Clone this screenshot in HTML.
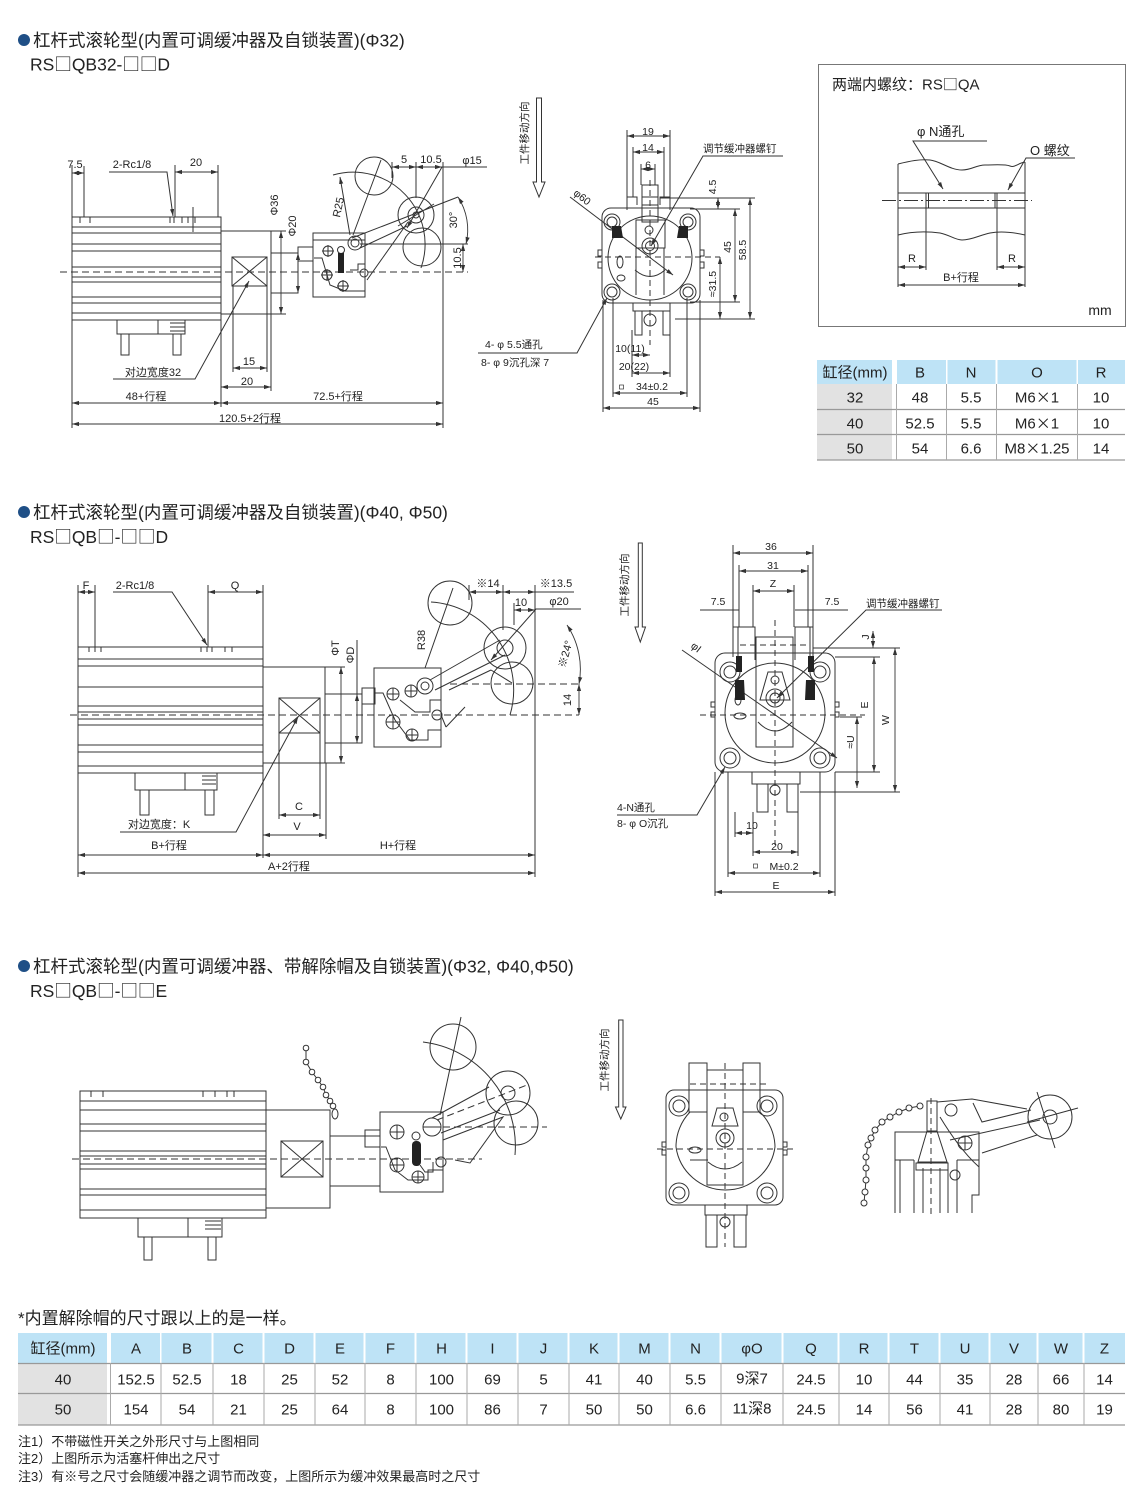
<!DOCTYPE html>
<html><head><meta charset="utf-8">
<style>
html,body{margin:0;padding:0;background:#fff;width:1140px;height:1504px;overflow:hidden}
svg{display:block}
text{font-family:"Liberation Sans","Noto Sans CJK SC",sans-serif;fill:#222}
.cj{font-family:"Noto Sans CJK SC","WenQuanYi Zen Hei",sans-serif}
.s{font-size:10.5px}
.m{font-size:11px}
.tb{font-size:15px}
</style></head><body>
<svg xmlns="http://www.w3.org/2000/svg" width="1140" height="1504" viewBox="0 0 1140 1504">
<defs>
<marker id="a" markerWidth="7" markerHeight="6" refX="7" refY="3" orient="auto-start-reverse" markerUnits="userSpaceOnUse"><path d="M0,0.9 L7,3 L0,5.1z" fill="#333"/></marker>
</defs>

<!-- ===== Headings ===== -->
<circle cx="24" cy="40" r="6" fill="#1f4f86"/>
<text x="33" y="46.5" font-size="17.5">杠杆式滚轮型(内置可调缓冲器及自锁装置)(Φ32)</text>
<text x="30" y="70.5" font-size="17.5">RS<tspan class="cj">□</tspan>QB32-<tspan class="cj">□□</tspan>D</text>
<circle cx="24" cy="512" r="6" fill="#1f4f86"/>
<text x="33" y="518.5" font-size="17.5">杠杆式滚轮型(内置可调缓冲器及自锁装置)(Φ40, Φ50)</text>
<text x="30" y="543" font-size="17.5">RS<tspan class="cj">□</tspan>QB<tspan class="cj">□</tspan>-<tspan class="cj">□□</tspan>D</text>
<circle cx="24" cy="966" r="6" fill="#1f4f86"/>
<text x="33" y="972.5" font-size="17.5">杠杆式滚轮型(内置可调缓冲器、带解除帽及自锁装置)(Φ32, Φ40,Φ50)</text>
<text x="30" y="997" font-size="17.5">RS<tspan class="cj">□</tspan>QB<tspan class="cj">□</tspan>-<tspan class="cj">□□</tspan>E</text>

<!-- ===== Drawing 1 (top-left) ===== -->
<g fill="none" stroke="#333" stroke-width="1">
<rect x="72" y="217" width="149" height="103"/>
<path d="M72 227H221M72 233H221M72 244H221M72 251H221M72 267H221M72 277H221M72 282H221M72 297H221M72 303H221M72 313H221"/>
<path d="M80 217v6M90 217v6M170 217v6M174 217v6M182 217v6M188 217v6M195 217v6M193 207V232"/>
<rect x="221" y="231" width="50" height="83"/>
<rect x="232" y="257" width="35" height="29"/>
<path d="M232 257L267 286M267 257L232 286"/>
<path d="M271 253H298V293H271"/>
<rect x="298" y="247" width="15" height="14"/>
<rect x="313" y="233" width="52" height="64"/>
<path d="M313 240H365M314 258H322L330 285L345 291H365M350 270H358V264H365"/>
<circle cx="328" cy="251" r="5"/><path d="M322 251h12M328 245v12"/>
<circle cx="341" cy="250" r="3.5"/>
<circle cx="327" cy="275" r="5"/><path d="M321 275h12M327 269v12"/>
<circle cx="343" cy="286" r="5"/><path d="M337 286h12M343 280v12"/>
<circle cx="364" cy="273" r="4"/>
<circle cx="355" cy="243" r="7"/><circle cx="355" cy="243" r="4"/>
<circle cx="374" cy="176" r="19"/>
<circle cx="416" cy="215" r="18"/><circle cx="416" cy="215" r="8"/><circle cx="416" cy="215" r="3"/>
<circle cx="422" cy="247" r="19"/>
<path d="M333 175A72 72 0 0 1 421 268"/>
<path d="M353 235L381 160M352 238L458 197M360 248L407 226M367 280L408 222M360 244H468M398 226L434 204"/>
<path d="M60 272H468" stroke-dasharray="7 4"/>
<rect x="117" y="320" width="68" height="14"/>
<path d="M158 320V334M170 323h15M170 327h15M170 331h15"/>
<rect x="121" y="334" width="8" height="21"/>
<rect x="173" y="334" width="8" height="21"/>
<path d="M72 165V217M84 166V217M175 165V217M218 165V217M72 320V428M221 320V407M443 162V428M233 286V372M267 286V372M271 314V391M271 231H286M271 314H286M392 162V178M416 162V198"/>
<path d="M109 172H167L173 216" marker-end="url(#a)"/>
<path d="M487 167H442L407 228" marker-end="url(#a)"/>
<path d="M113 379H195L249 281" marker-end="url(#a)"/>
<path d="M350 235L340 177" marker-end="url(#a)"/>
</g>
<g fill="none" stroke="#333" stroke-width="0.9" marker-start="url(#a)" marker-end="url(#a)">
<line x1="72" y1="403" x2="221" y2="403"/>
<line x1="221" y1="403" x2="443" y2="403"/>
<line x1="72" y1="424" x2="443" y2="424"/>
<line x1="233" y1="368" x2="267" y2="368"/>
<line x1="221" y1="387" x2="271" y2="387"/>
<line x1="281" y1="231" x2="281" y2="314"/>
<line x1="298" y1="253" x2="298" y2="293"/>
<line x1="72" y1="173" x2="84" y2="173"/>
<line x1="175" y1="172" x2="218" y2="172"/>
<line x1="392" y1="167" x2="416" y2="167"/>
<line x1="416" y1="167" x2="442" y2="167"/>
<line x1="463" y1="244" x2="463" y2="272"/>
<path d="M458 197A60 60 0 0 1 466 244"/>
</g>
<g class="m" text-anchor="middle">
<text x="75" y="168">7.5</text>
<text x="132" y="168">2-Rc1/8</text>
<text x="196" y="166">20</text>
<text x="404" y="163">5</text>
<text x="431" y="163">10.5</text>
<text x="472" y="164">φ15</text>
<text transform="translate(278,205) rotate(-90)">Φ36</text>
<text transform="translate(296,226) rotate(-90)">Φ20</text>
<text transform="translate(342,208) rotate(-78)">R25</text>
<text transform="translate(457,220) rotate(-90)">30°</text>
<text transform="translate(461,258) rotate(-90)">10.5</text>
<text x="249" y="365">15</text>
<text x="247" y="385">20</text>
<text x="153" y="376">对边宽度32</text>
<text x="146" y="400">48+行程</text>
<text x="338" y="400">72.5+行程</text>
<text x="250" y="422">120.5+2行程</text>
</g>
<rect x="338" y="253" width="6" height="20" fill="#222"/>

<!-- ===== Drawing 2 (top middle) ===== -->
<g fill="none" stroke="#333" stroke-width="1">
<path d="M536.5 98V182H533L539 197L545 182H541.5V98Z"/>
<rect x="602" y="208" width="98" height="95" rx="9"/>
<path d="M602 250h-4v6h4M602 262h-4v6h4M700 250h4v6h-4M700 262h4v6h-4"/>
<circle cx="650" cy="258" r="42"/>
<circle cx="612" cy="222" r="8"/><circle cx="612" cy="222" r="5"/>
<circle cx="688" cy="222" r="8"/><circle cx="688" cy="222" r="5"/>
<circle cx="612" cy="292" r="8"/><circle cx="612" cy="292" r="5"/>
<circle cx="688" cy="292" r="8"/><circle cx="688" cy="292" r="5"/>
<path d="M627 210V197H637V205M670 210V197H660V205"/>
<rect x="642" y="185" width="16" height="37"/>
<path d="M642 197H658M642 205H658"/>
<rect x="636" y="220" width="29" height="28"/>
<circle cx="649" cy="230" r="4"/>
<circle cx="650" cy="246" r="8"/><circle cx="650" cy="246" r="4.5"/>
<path d="M635 270Q650 283 665 270M636 248V295M664 248V295"/>
<ellipse cx="620" cy="262" rx="3" ry="6"/><ellipse cx="621" cy="278" rx="4" ry="3"/>
<rect x="633" y="303" width="37" height="8"/>
<rect x="635" y="311" width="7" height="24"/><rect x="663" y="311" width="7" height="24"/>
<circle cx="650" cy="320" r="6"/>
<path d="M595 257H720M650 180V345" stroke-dasharray="6 4"/>
<path d="M627 130V197M670 130V197M633 147V197M664 147V197M641 164V185M655 164V185M660 198H755M690 209H740M690 302H740M675 319H755M603 300V412M700 300V412M613 298V397M687 298V397M632 330V377M670 330V377"/>
<path d="M478 353H577L607 298" marker-end="url(#a)"/>
<path d="M783 156H703L651 246" marker-end="url(#a)"/>
<path d="M570 197L673 275" marker-end="url(#a)"/>
</g>
<g fill="none" stroke="#333" stroke-width="0.9" marker-start="url(#a)" marker-end="url(#a)">
<line x1="627" y1="136" x2="670" y2="136"/>
<line x1="633" y1="152" x2="664" y2="152"/>
<line x1="641" y1="169" x2="655" y2="169"/>
<line x1="718" y1="198" x2="718" y2="209"/>
<line x1="735" y1="209" x2="735" y2="302"/>
<line x1="750" y1="198" x2="750" y2="319"/>
<line x1="720" y1="257" x2="720" y2="319"/>
<line x1="632" y1="355" x2="650" y2="355"/>
<line x1="632" y1="373" x2="670" y2="373"/>
<line x1="613" y1="393" x2="687" y2="393"/>
<line x1="603" y1="408" x2="700" y2="408"/>
</g>
<text class="s" transform="translate(528,133) rotate(-90)" text-anchor="middle">工件移动方向</text>
<g class="s" text-anchor="middle">
<text x="648" y="135">19</text>
<text x="648" y="151">14</text>
<text x="648" y="168.5">6</text>
<text transform="translate(716,187) rotate(-90)">4.5</text>
<text transform="translate(731,247) rotate(-90)">45</text>
<text transform="translate(746,250) rotate(-90)">58.5</text>
<text transform="translate(716,284) rotate(-90)">≈31.5</text>
<text x="630" y="352">10(11)</text>
<text x="634" y="370">20(22)</text>
<text x="652" y="390">34±0.2</text>
<text x="653" y="405">45</text>
<text transform="translate(580,200) rotate(38)">φ60</text>
</g>
<rect x="619.5" y="385" width="4" height="4" fill="none" stroke="#333" stroke-width="0.7"/>
<g class="s">
<text x="485" y="348">4- φ 5.5通孔</text>
<text x="481" y="366">8- φ 9沉孔深 7</text>
<text x="703" y="152">调节缓冲器螺钉</text>
</g>
<path d="M612 226h9l2 12h-11z M688 226h-9l-2 12h11z" fill="#222"/>

<!-- ===== Drawing 3 (box) ===== -->
<rect x="818.5" y="64.5" width="307" height="262" fill="none" stroke="#777" stroke-width="1"/>
<text x="832" y="89.5" font-size="15">两端内螺纹：RS<tspan class="cj">□</tspan>QA</text>
<g fill="none" stroke="#333" stroke-width="1">
<path d="M898 164C910 161 920 159 930 160C940 161 950 170 962 170C972 170 976 165 985 165C995 165 1005 164 1010 166C1015 168 1018 163 1025 162"/>
<path d="M898 235C910 232 925 231 940 233C950 235 955 240 962 240C972 240 980 235 990 233C1000 231 1012 232 1025 235"/>
<path d="M898 164V287M1025 162V287"/>
<rect x="898" y="193" width="127" height="15"/>
<path d="M926 193V270M928.5 193V208M995 193V208M997 193V270"/>
<path d="M882 200.5H1032" stroke-dasharray="14 3 2 3"/>
<path d="M987 141H913L943 189" marker-end="url(#a)"/>
<path d="M1075 158H1026L1008 190" marker-end="url(#a)"/>
</g>
<g fill="none" stroke="#333" stroke-width="0.9" marker-start="url(#a)" marker-end="url(#a)">
<line x1="898" y1="267" x2="926" y2="267"/>
<line x1="997" y1="267" x2="1025" y2="267"/>
<line x1="898" y1="285" x2="1025" y2="285"/>
</g>
<text x="917" y="136" font-size="13">φ N通孔</text>
<text x="1030" y="155" font-size="13">O 螺纹</text>
<g class="m" text-anchor="middle">
<text x="912" y="262">R</text>
<text x="1012" y="262">R</text>
<text x="961" y="281">B+行程</text>
</g>
<text x="1100" y="315" font-size="14" text-anchor="middle">mm</text>

<!-- ===== Top-right table ===== -->
<g>
<rect x="817" y="360" width="75" height="24" fill="#bee3f6"/>
<rect x="897" y="360" width="49" height="24" fill="#bee3f6"/>
<rect x="947.5" y="360" width="48" height="24" fill="#bee3f6"/>
<rect x="997.5" y="360" width="79" height="24" fill="#bee3f6"/>
<rect x="1078" y="360" width="47" height="24" fill="#bee3f6"/>
<rect x="817" y="384" width="75" height="76" fill="#e2e2e2"/>
<path d="M817 409.5H1125M817 434.5H1125M817 460H1125" stroke="#999" stroke-width="1.2"/>
<path d="M896.5 384V460M946.5 384V460M996.5 384V460M1077.5 384V460" stroke="#aaa" stroke-width="1"/>
</g>
<g class="tb" text-anchor="middle">
<text x="855" y="377.5">缸径(mm)</text>
<text x="920" y="377.5">B</text><text x="971" y="377.5">N</text><text x="1037" y="377.5">O</text><text x="1101" y="377.5">R</text>
<text x="855" y="402.5">32</text><text x="920" y="402.5">48</text><text x="971" y="402.5">5.5</text><text x="1037" y="402.5">M6<tspan class="cj">×</tspan>1</text><text x="1101" y="402.5">10</text>
<text x="855" y="428.5">40</text><text x="920" y="428.5">52.5</text><text x="971" y="428.5">5.5</text><text x="1037" y="428.5">M6<tspan class="cj">×</tspan>1</text><text x="1101" y="428.5">10</text>
<text x="855" y="453.5">50</text><text x="920" y="453.5">54</text><text x="971" y="453.5">6.6</text><text x="1037" y="453.5">M8<tspan class="cj">×</tspan>1.25</text><text x="1101" y="453.5">14</text>
</g>

<!-- ===== Drawing 4 (row 2 left) ===== -->
<g fill="none" stroke="#333" stroke-width="1">
<rect x="78" y="647" width="185" height="126"/>
<path d="M78 659H263M78 666H263M78 687H263M78 706H263M78 712H263M78 719H263M78 725H263M78 745H263M78 752H263M78 766H263"/>
<path d="M89 647v5M95 647v5M101 647v5M201 647v5M207 647v5M212 647v5M225 647v5M232 647v5"/>
<rect x="263" y="667" width="62" height="96"/>
<rect x="279" y="698" width="41" height="35"/>
<path d="M279 698L320 733M320 698L279 733"/>
<path d="M325 694H362V743H325"/>
<rect x="362" y="688" width="13" height="16"/>
<rect x="374" y="668" width="67" height="79"/>
<path d="M375 693H383L395 720L410 740H428V730H441M400 700L415 712H430V700H441"/>
<circle cx="393" cy="694" r="6"/><path d="M387 694h12M393 688v12"/>
<circle cx="411" cy="691" r="6"/><path d="M405 691h12M411 685v12"/>
<circle cx="425" cy="686" r="8"/><circle cx="425" cy="686" r="4"/>
<circle cx="393" cy="722" r="7"/><path d="M386 722h14M393 715v14"/>
<circle cx="412" cy="735" r="6"/><path d="M406 735h12M412 729v12"/>
<circle cx="437" cy="715" r="5"/>
<path d="M430 680L500 640M435 690L505 655M449 690L491 670M491 670L512 683M446 727L465 707M446 727L441 715M425 668L453 588"/>
<circle cx="450" cy="603" r="22"/>
<circle cx="505" cy="648" r="21"/><circle cx="505" cy="648" r="8"/>
<circle cx="512" cy="683" r="21"/>
<path d="M431 602A88 88 0 0 1 510 715"/>
<path d="M70 715H579M450 684H582" stroke-dasharray="7 4"/>
<rect x="135" y="773" width="82" height="17"/>
<path d="M185 773V790M202 776h14M202 780h14M202 784h14"/>
<rect x="140" y="790" width="9" height="25"/><rect x="205" y="790" width="9" height="25"/>
<path d="M78 585V647M95 585V647M208 585V647M263 585V647M325 667H345M325 763H345M357 640V694M469 585V600M503 585V630M535 585V877M514 603V625M78 773V877M263 773V858M279 733V819M320 733V819M326 763V839"/>
<path d="M113 592H172L207 645" marker-end="url(#a)"/>
<path d="M581 609H536L491 660" marker-end="url(#a)"/>
<path d="M120 832H236L298 717" marker-end="url(#a)"/>
<path d="M535 592H574"/>
</g>
<g fill="none" stroke="#333" stroke-width="0.9" marker-start="url(#a)" marker-end="url(#a)">
<line x1="78" y1="592" x2="95" y2="592"/>
<line x1="208" y1="592" x2="263" y2="592"/>
<line x1="341" y1="667" x2="341" y2="763"/>
<line x1="357" y1="694" x2="357" y2="743"/>
<line x1="469" y1="592" x2="503" y2="592"/>
<line x1="503" y1="592" x2="535" y2="592"/>
<line x1="514" y1="610" x2="535" y2="610"/>
<line x1="579" y1="684" x2="579" y2="715"/>
<path d="M567 625A80 80 0 0 1 579 684"/>
<line x1="279" y1="815" x2="320" y2="815"/>
<line x1="263" y1="835" x2="326" y2="835"/>
<line x1="78" y1="855" x2="263" y2="855"/>
<line x1="263" y1="855" x2="535" y2="855"/>
<line x1="78" y1="873" x2="535" y2="873"/>
</g>
<g class="m" text-anchor="middle">
<text x="86" y="589">F</text>
<text x="135" y="589">2-Rc1/8</text>
<text x="235" y="589">Q</text>
<text x="488" y="587">※14</text>
<text x="556" y="587">※13.5</text>
<text x="521" y="606">10</text>
<text x="559" y="605">φ20</text>
<text transform="translate(339,648) rotate(-90)">ΦT</text>
<text transform="translate(354,655) rotate(-90)">ΦD</text>
<text transform="translate(425,640) rotate(-90)">R38</text>
<text transform="translate(569,655) rotate(-75)">※24°</text>
<text transform="translate(571,700) rotate(-90)">14</text>
<text x="299" y="810">C</text>
<text x="297" y="830">V</text>
<text x="159" y="828">对边宽度：K</text>
<text x="169" y="849">B+行程</text>
<text x="398" y="849">H+行程</text>
<text x="289" y="870">A+2行程</text>
</g>

<!-- ===== Drawing 5 (row 2 right) ===== -->
<g fill="none" stroke="#333" stroke-width="1">
<path d="M638.3 543V627H635L640.3 642L645.5 627H642.3V543Z"/>
<rect x="715" y="653" width="120" height="119" rx="10"/>
<path d="M715 702h-4v5h4M715 712h-4v5h4M835 702h4v5h-4M835 712h4v5h-4"/>
<circle cx="775" cy="713" r="50"/>
<circle cx="730" cy="672" r="10"/><circle cx="730" cy="672" r="6"/>
<circle cx="820" cy="672" r="10"/><circle cx="820" cy="672" r="6"/>
<circle cx="730" cy="758" r="10"/><circle cx="730" cy="758" r="6"/>
<circle cx="820" cy="758" r="10"/><circle cx="820" cy="758" r="6"/>
<path d="M733 657V627H755V660M813 657V627H795V660M738 627V660M810 627V660"/>
<rect x="756" y="637" width="37" height="110"/>
<path d="M760 700L768 672H782L790 700ZM758 722Q775 740 792 722"/>
<circle cx="775" cy="680" r="4"/>
<circle cx="775" cy="698" r="9"/><circle cx="775" cy="698" r="5"/>
<ellipse cx="740" cy="716" rx="6" ry="3"/><ellipse cx="738" cy="700" rx="3" ry="5"/>
<rect x="752" y="772" width="48" height="12"/>
<rect x="757" y="784" width="11" height="28"/><rect x="787" y="784" width="11" height="28"/>
<circle cx="775" cy="790" r="5"/>
<path d="M700 715H865M775 620V845M740 645H810" stroke-dasharray="6 4"/>
<path d="M733 545V627M813 545V627M739 565V627M808 565V627M753 585V627M794 585V627M700 610H739M848 610H795M813 648H900M835 657H880M835 772H880M800 792H900M840 717H862M715 772V896M835 772V896M728 772V877M820 772V877M753 812V856M798 812V856M735 812V837"/>
<path d="M942 610H866L777 698" marker-end="url(#a)"/>
<path d="M682 650L837 758" marker-end="url(#a)"/>
<path d="M617 815H697L725 767" marker-end="url(#a)"/>
</g>
<g fill="none" stroke="#333" stroke-width="0.9" marker-start="url(#a)" marker-end="url(#a)">
<line x1="733" y1="553" x2="813" y2="553"/>
<line x1="739" y1="571" x2="808" y2="571"/>
<line x1="753" y1="591" x2="794" y2="591"/>
<line x1="873" y1="631" x2="873" y2="648"/>
<line x1="874" y1="657" x2="874" y2="772"/>
<line x1="895" y1="648" x2="895" y2="792"/>
<line x1="857" y1="717" x2="857" y2="788"/>
<line x1="735" y1="833" x2="753" y2="833"/>
<line x1="753" y1="852" x2="798" y2="852"/>
<line x1="728" y1="873" x2="820" y2="873"/>
<line x1="715" y1="892" x2="835" y2="892"/>
</g>
<path d="M736 656h6v16h-6z M808 656h6v16h-6z M735 680h9l1 20h-10z M806 680h9v20h-10z" fill="#222"/>
<text class="s" transform="translate(628,585) rotate(-90)" text-anchor="middle">工件移动方向</text>
<g class="s" text-anchor="middle">
<text x="771" y="550">36</text>
<text x="773" y="569">31</text>
<text x="773" y="587">Z</text>
<text x="718" y="605">7.5</text>
<text x="832" y="605">7.5</text>
<text transform="translate(869,637) rotate(-90)">J</text>
<text transform="translate(868,705) rotate(-90)">E</text>
<text transform="translate(889,720) rotate(-90)">W</text>
<text transform="translate(854,742) rotate(-90)">≈U</text>
<text transform="translate(694,650) rotate(38)">φI</text>
<text x="752" y="829">10</text>
<text x="777" y="850">20</text>
<text x="784" y="870">M±0.2</text>
<text x="776" y="889">E</text>
</g>
<rect x="753.5" y="864" width="4" height="4" fill="none" stroke="#333" stroke-width="0.7"/>
<g class="s">
<text x="866" y="607">调节缓冲器螺钉</text>
<text x="617" y="811">4-N通孔</text>
<text x="617" y="827">8- φ O沉孔</text>
</g>

<!-- ===== Drawing 6 (row 3 left) ===== -->
<g fill="none" stroke="#333" stroke-width="1">
<rect x="80" y="1091" width="186" height="127"/>
<path d="M80 1101H266M80 1110H266M80 1124H266M80 1131H266M80 1151H266M80 1156H266M80 1164H266M80 1169H266M80 1189H266M80 1195H266M80 1210H266"/>
<path d="M91 1091v6M103 1091v6M203 1091v6M215 1091v6M227 1091v6M234 1091v6"/>
<rect x="266" y="1110" width="64" height="98"/>
<rect x="281" y="1141" width="42" height="36"/>
<path d="M281 1141L323 1177M323 1141L281 1177"/>
<path d="M330 1136H380M330 1186H380"/>
<rect x="365" y="1130" width="15" height="17"/>
<rect x="380" y="1112" width="63" height="80"/>
<path d="M381 1147H386L395 1170L408 1180H428V1170H443M420 1165L425 1172H433V1162"/>
<circle cx="397" cy="1132" r="7"/><path d="M390 1132h14M397 1125v14"/>
<circle cx="397" cy="1165" r="7"/><path d="M390 1165h14M397 1158v14"/>
<circle cx="418" cy="1177" r="6"/><path d="M412 1177h12M418 1171v12"/>
<circle cx="432" cy="1127" r="9"/><path d="M423 1127h18"/>
<circle cx="441" cy="1162" r="5"/>
<circle cx="416" cy="1136" r="4"/>
<path d="M432 1118L489 1087M441 1133L500 1110M443 1140L503 1117L470 1163L455 1160M440 1115L461 1017"/>
<circle cx="453" cy="1047" r="23"/>
<circle cx="508" cy="1093" r="22"/><circle cx="508" cy="1093" r="7"/>
<circle cx="516" cy="1123" r="22"/>
<path d="M423 1042A105 105 0 0 1 515 1155"/>
<path d="M72 1159H482M443 1127H547M437 1120L527 1085" stroke-dasharray="7 4"/>
<path d="M306 1048L306 1062L312 1072L318 1080L323 1087L326 1095L330 1100L333 1105L335 1110"/>
<rect x="138" y="1218" width="84" height="19"/>
<path d="M188 1218V1237M205 1221h16M205 1225h16M205 1229h16"/>
<rect x="144" y="1237" width="8" height="23"/><rect x="208" y="1237" width="8" height="23"/>
</g>
<g fill="#fff" stroke="#333" stroke-width="1">
<circle cx="306" cy="1048" r="2.8"/><circle cx="306" cy="1062" r="2.8"/><circle cx="312" cy="1072" r="2.8"/><circle cx="318" cy="1080" r="2.8"/><circle cx="323" cy="1087" r="2.8"/><circle cx="326" cy="1095" r="2.8"/><circle cx="330" cy="1101" r="2.8"/><circle cx="333" cy="1106" r="2.8"/>
<ellipse cx="335" cy="1114" rx="3" ry="5"/>
</g>
<rect x="412" y="1141" width="9" height="25" rx="4" fill="#222"/>

<!-- ===== Drawing 7 (row 3 middle) ===== -->
<g fill="none" stroke="#333" stroke-width="1">
<path d="M618.7 1020V1107H615.5L620.8 1119L626 1107H623V1020Z"/>
<rect x="666" y="1090" width="117" height="115" rx="8"/>
<path d="M666 1142h-4v5h4M666 1150h-4v5h4M783 1142h4v5h-4M783 1150h4v5h-4"/>
<path d="M676 1147A50 50 0 0 0 775 1147M676 1147A50 50 0 0 1 690 1112M775 1147A50 50 0 0 0 760 1112"/>
<circle cx="679" cy="1106" r="10"/><circle cx="679" cy="1106" r="6"/>
<circle cx="767" cy="1106" r="10"/><circle cx="767" cy="1106" r="6"/>
<circle cx="679" cy="1193" r="10"/><circle cx="679" cy="1193" r="6"/>
<circle cx="767" cy="1193" r="10"/><circle cx="767" cy="1193" r="6"/>
<rect x="689" y="1063" width="18" height="49"/>
<rect x="743" y="1063" width="17" height="49"/>
<rect x="707" y="1070" width="36" height="115"/>
<path d="M712 1126L717 1108H733L738 1126ZM708 1162Q725 1176 742 1162M690 1160H708"/>
<circle cx="724" cy="1117" r="4"/>
<circle cx="725" cy="1138" r="9"/><circle cx="725" cy="1138" r="5"/>
<ellipse cx="695" cy="1150" rx="6" ry="3"/>
<rect x="705" y="1205" width="42" height="10"/>
<rect x="706" y="1215" width="11" height="32"/><rect x="734" y="1215" width="12" height="32"/>
<circle cx="725" cy="1222" r="5"/>
<path d="M657 1149H795M690 1084H768M725 1063V1247" stroke-dasharray="6 4"/>
</g>
<text class="s" transform="translate(608,1060) rotate(-90)" text-anchor="middle">工件移动方向</text>

<!-- ===== Drawing 8 (row 3 right) ===== -->
<g fill="none" stroke="#333" stroke-width="1">
<path d="M920 1106L909 1108L899 1112L890 1117L882 1122L875 1130L871 1138L868 1145L866 1157L866 1168L866 1180L865 1192L864 1203"/>
<path d="M895 1213V1132H979V1195H972V1213M900 1160V1213M914 1160V1213M923 1168V1213M940 1168V1213M948 1168V1213M957 1160V1213M895 1160H914M957 1160H979"/>
<rect x="927" y="1101" width="10" height="30"/>
<path d="M927 1131L918 1162H947L937 1131"/>
<rect x="916" y="1163" width="32" height="7"/>
<path d="M937 1102L972 1099L1027 1109M973 1103L982 1122L1031 1110M982 1153L1037 1135M950 1140L1040 1120M940 1117Q960 1150 979 1167"/>
<circle cx="1050" cy="1117" r="22"/><circle cx="1050" cy="1117" r="7"/>
<path d="M1037 1092L1055 1148M1027 1122L1078 1108"/>
<circle cx="965" cy="1143" r="7"/><path d="M958 1143h14M965 1136v14"/>
<circle cx="951" cy="1110" r="6"/>
<circle cx="955" cy="1175" r="5"/>
<path d="M931 1098V1215" stroke-dasharray="6 4"/>
</g>
<g fill="#fff" stroke="#333" stroke-width="1">
<circle cx="920" cy="1106" r="3"/><circle cx="909" cy="1108" r="3"/><circle cx="899" cy="1112" r="3"/><circle cx="890" cy="1117" r="3"/><circle cx="882" cy="1122" r="3"/><circle cx="875" cy="1130" r="3"/><circle cx="871" cy="1138" r="3"/><circle cx="868" cy="1145" r="3"/><circle cx="866" cy="1157" r="3"/><circle cx="866" cy="1168" r="3"/><circle cx="866" cy="1180" r="3"/><circle cx="865" cy="1192" r="3"/><circle cx="864" cy="1203" r="3"/>
</g>

<!-- ===== Bottom table ===== -->
<text x="18" y="1324" font-size="17">*内置解除帽的尺寸跟以上的是一样。</text>
<g fill="#bee3f6">
<rect x="18" y="1333" width="89" height="30"/>
<rect x="111" y="1333" width="49" height="30"/>
<rect x="161.5" y="1333" width="50" height="30"/>
<rect x="213.5" y="1333" width="49" height="30"/>
<rect x="264.5" y="1333" width="49" height="30"/>
<rect x="315.5" y="1333" width="48" height="30"/>
<rect x="365.5" y="1333" width="49" height="30"/>
<rect x="416.5" y="1333" width="49" height="30"/>
<rect x="467.5" y="1333" width="49" height="30"/>
<rect x="518.5" y="1333" width="49" height="30"/>
<rect x="569.5" y="1333" width="48" height="30"/>
<rect x="619.5" y="1333" width="49" height="30"/>
<rect x="670.5" y="1333" width="49" height="30"/>
<rect x="721.5" y="1333" width="60" height="30"/>
<rect x="783.5" y="1333" width="54" height="30"/>
<rect x="839.5" y="1333" width="48" height="30"/>
<rect x="889.5" y="1333" width="49" height="30"/>
<rect x="940.5" y="1333" width="48" height="30"/>
<rect x="990.5" y="1333" width="46" height="30"/>
<rect x="1038.5" y="1333" width="44" height="30"/>
<rect x="1084.5" y="1333" width="40.5" height="30"/>
</g>
<rect x="18" y="1363" width="89" height="62" fill="#e2e2e2"/>
<path d="M18 1363.5H1125M18 1393.5H1125M18 1425H1125" stroke="#999" stroke-width="1.2"/>
<path d="M110.5 1363V1425M161 1363V1425M213 1363V1425M264 1363V1425M315 1363V1425M365 1363V1425M416 1363V1425M467 1363V1425M518 1363V1425M569 1363V1425M619 1363V1425M670 1363V1425M721 1363V1425M783 1363V1425M839 1363V1425M889 1363V1425M940 1363V1425M990 1363V1425M1038 1363V1425M1084 1363V1425" stroke="#aaa" stroke-width="1"/>
<g class="tb" text-anchor="middle">
<text x="63" y="1353.5">缸径(mm)</text>
<text x="136" y="1353.5">A</text><text x="187" y="1353.5">B</text><text x="238.5" y="1353.5">C</text><text x="289.5" y="1353.5">D</text><text x="340" y="1353.5">E</text><text x="390.5" y="1353.5">F</text><text x="441.5" y="1353.5">H</text><text x="492.5" y="1353.5">I</text><text x="543.5" y="1353.5">J</text><text x="594" y="1353.5">K</text><text x="644.5" y="1353.5">M</text><text x="695.5" y="1353.5">N</text><text x="752" y="1353.5">φO</text><text x="811" y="1353.5">Q</text><text x="864" y="1353.5">R</text><text x="914.5" y="1353.5">T</text><text x="965" y="1353.5">U</text><text x="1014" y="1353.5">V</text><text x="1061" y="1353.5">W</text><text x="1104.5" y="1353.5">Z</text>
<text x="63" y="1384.5">40</text>
<text x="136" y="1384.5">152.5</text><text x="187" y="1384.5">52.5</text><text x="238.5" y="1384.5">18</text><text x="289.5" y="1384.5">25</text><text x="340" y="1384.5">52</text><text x="390.5" y="1384.5">8</text><text x="441.5" y="1384.5">100</text><text x="492.5" y="1384.5">69</text><text x="543.5" y="1384.5">5</text><text x="594" y="1384.5">41</text><text x="644.5" y="1384.5">40</text><text x="695.5" y="1384.5">5.5</text><text x="752" y="1383.5">9深7</text><text x="811" y="1384.5">24.5</text><text x="864" y="1384.5">10</text><text x="914.5" y="1384.5">44</text><text x="965" y="1384.5">35</text><text x="1014" y="1384.5">28</text><text x="1061" y="1384.5">66</text><text x="1104.5" y="1384.5">14</text>
<text x="63" y="1414.5">50</text>
<text x="136" y="1414.5">154</text><text x="187" y="1414.5">54</text><text x="238.5" y="1414.5">21</text><text x="289.5" y="1414.5">25</text><text x="340" y="1414.5">64</text><text x="390.5" y="1414.5">8</text><text x="441.5" y="1414.5">100</text><text x="492.5" y="1414.5">86</text><text x="543.5" y="1414.5">7</text><text x="594" y="1414.5">50</text><text x="644.5" y="1414.5">50</text><text x="695.5" y="1414.5">6.6</text><text x="752" y="1413.5">11深8</text><text x="811" y="1414.5">24.5</text><text x="864" y="1414.5">14</text><text x="914.5" y="1414.5">56</text><text x="965" y="1414.5">41</text><text x="1014" y="1414.5">28</text><text x="1061" y="1414.5">80</text><text x="1104.5" y="1414.5">19</text>
</g>
<g font-size="13">
<text x="18" y="1446">注1）不带磁性开关之外形尺寸与上图相同</text>
<text x="18" y="1463">注2）上图所示为活塞杆伸出之尺寸</text>
<text x="18" y="1481">注3）有※号之尺寸会随缓冲器之调节而改变，上图所示为缓冲效果最高时之尺寸</text>
</g>
</svg>
</body></html>
